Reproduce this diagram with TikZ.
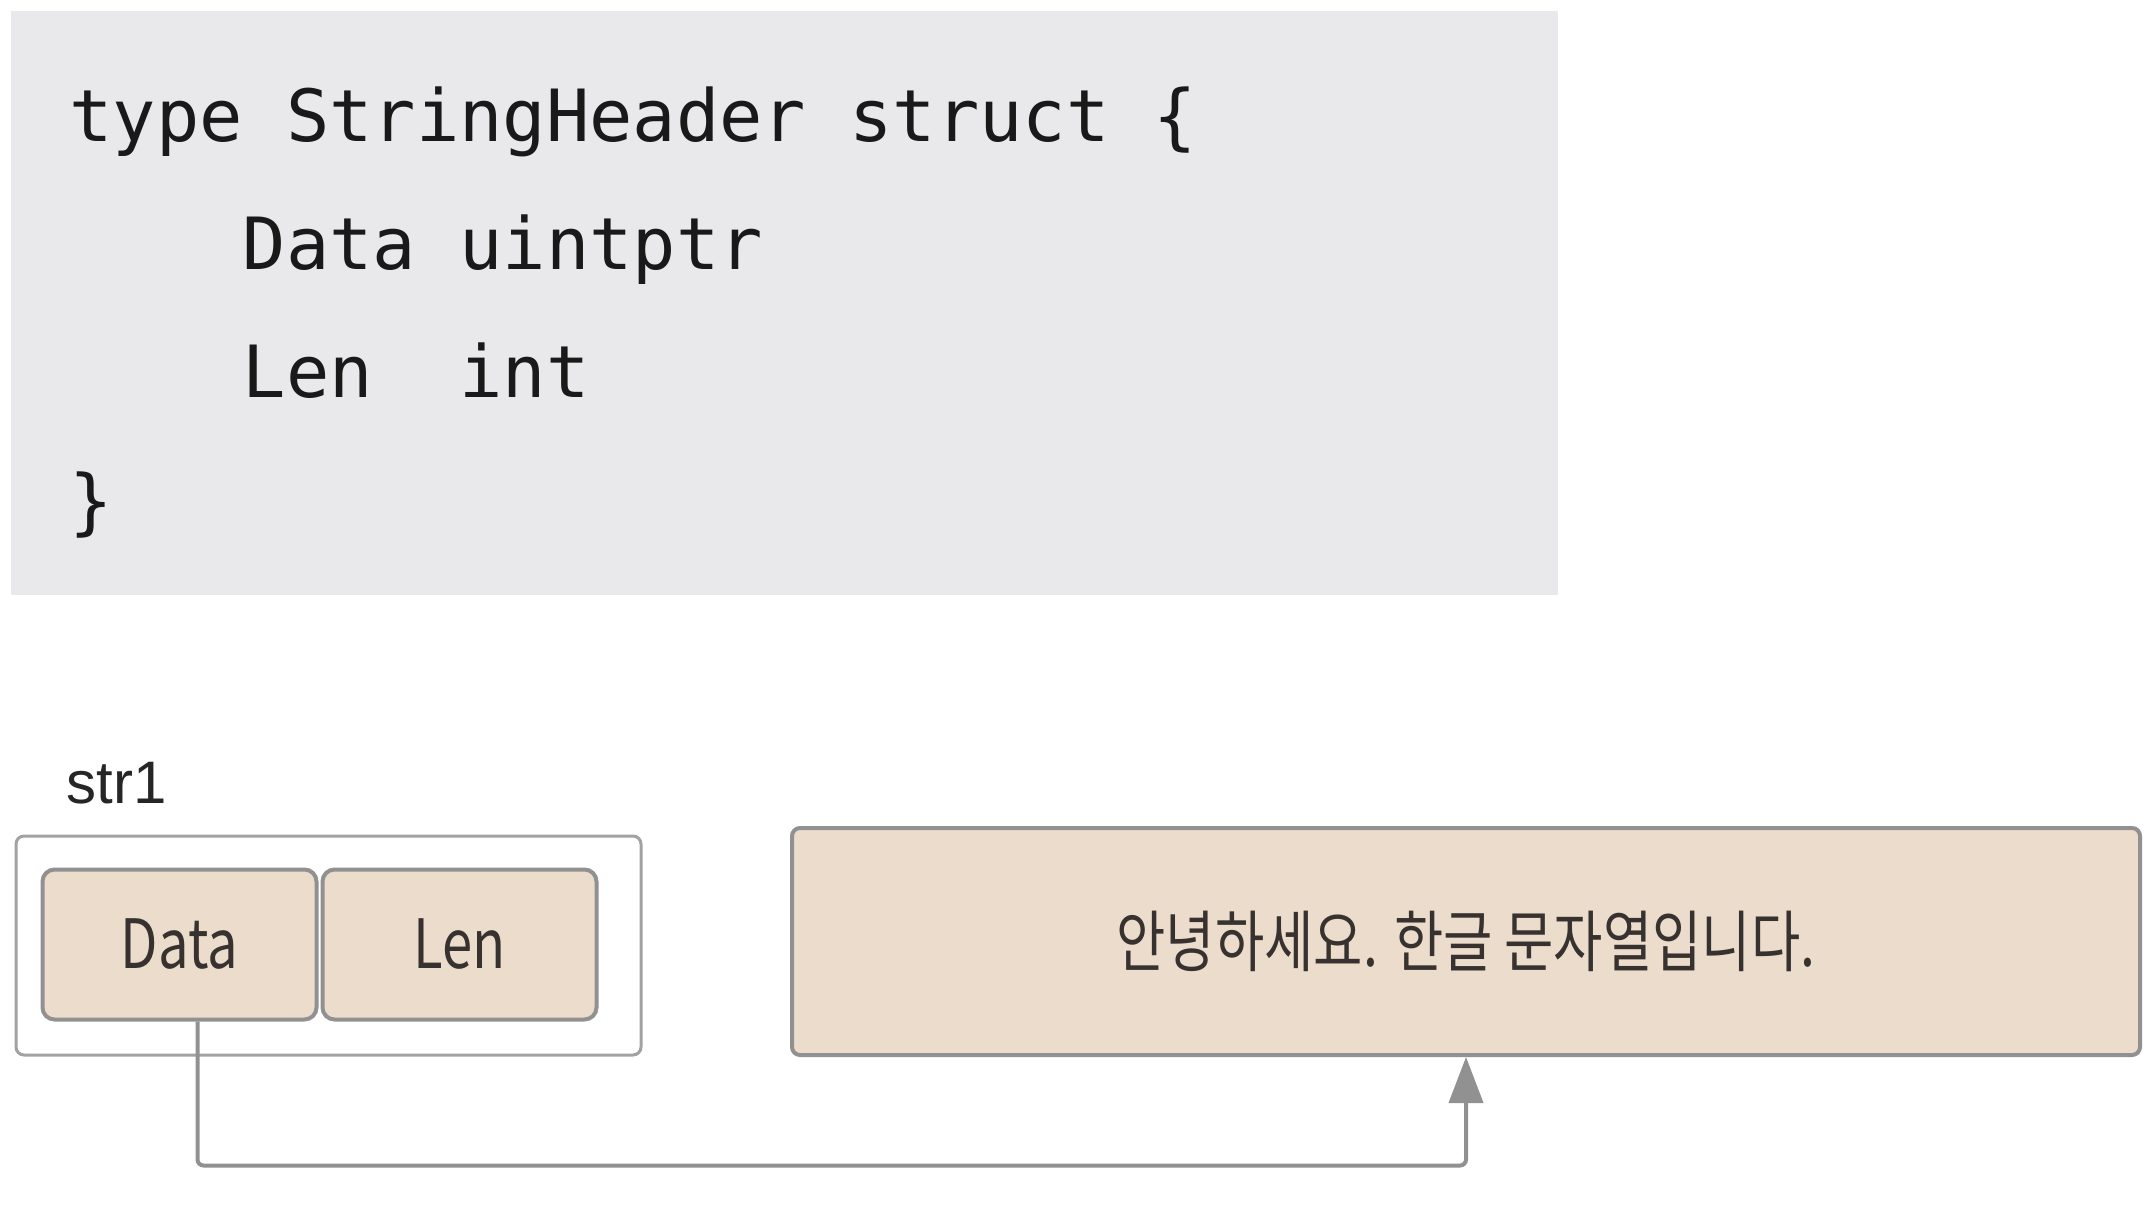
\documentclass[tikz,border=0pt]{standalone}
\usepackage{fontspec}
\setmainfont{Liberation Sans}
\setmonofont{DejaVu Sans Mono}
\newfontfamily\krfont[FakeStretch=0.8]{Noto Sans CJK KR}
\usepackage{tikz}
\usetikzlibrary{positioning, fit, arrows.meta}
\definecolor{codegray}{RGB}{233,232,235}
\definecolor{peach}{RGB}{236,220,204}
\definecolor{linegray}{RGB}{145,145,145}
\definecolor{inkgray}{RGB}{55,50,48}

\begin{document}
\begin{tikzpicture}[x=0.5pt,y=-0.5pt,
	code/.style={anchor=base west,inner sep=0pt,text=black!90,
		font=\ttfamily\fontsize{36}{43}\selectfont},
	cell/.style={draw=linegray,line width=2pt,fill=peach,rounded corners=6pt,
		minimum width=137pt,minimum height=75pt,inner sep=0pt,text=inkgray,
		font=\krfont\fontsize{34}{40}\selectfont},
	frame/.style={draw=linegray!85,line width=1.5pt,rounded corners=4pt,inner sep=0pt},
	ptr/.style={draw=linegray,line width=2pt,rounded corners=3pt,
		-{Triangle[length=23pt,width=17pt]}}]
	\path[fill=white,use as bounding box] (0,0) rectangle (2156,1224);
	\node[fill=codegray,anchor=north west,minimum width=773.5pt,minimum height=292pt,
		inner sep=0pt] (codebg) at (11,11) {};
	\node[code] (line1) at (69,142) {type StringHeader struct \{};
	\node[code] (line2) at (69,270) {\phantom{type}Data uintptr};
	\node[code] (line3) at (69,398) {\phantom{type}Len\ \ int};
	\node[code] (line4) at (69,526) {\}};
	\node[anchor=base west,inner sep=0pt,text=black!85,
		font=\fontsize{30}{36}\selectfont] (str1) at (66,803) {str1};
	\node[frame,fit={(16,836) (641,1055)}] (str1box) {};
	\node[cell] (data) at (179.5,944.5) {Data};
	\node[cell,right=1pt of data] (len) {Len};
	\node[cell,minimum width=674pt,minimum height=113.5pt,rounded corners=4pt,
		font=\krfont\fontsize{33.5}{38}\selectfont] (strbox) at (1466,941.5)
		{안녕하세요. 한글 문자열입니다.};
	\draw[ptr] ([xshift=9pt]data.south) -- ++(0,144) -| (strbox.south);
\end{tikzpicture}
\end{document}
